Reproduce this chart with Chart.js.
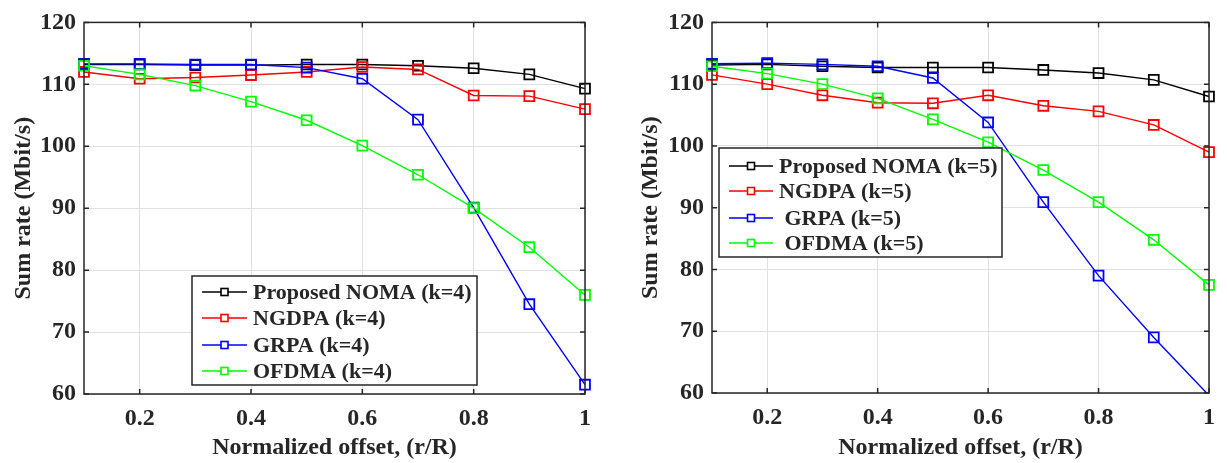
<!DOCTYPE html>
<html>
<head>
<meta charset="utf-8">
<script src="https://cdn.jsdelivr.net/npm/chart.js@4.4.1/dist/chart.umd.min.js"></script>
<style>
  html, body { margin: 0; padding: 0; background: #fff; }
  canvas { position: absolute; top: 0; }
  #left { left: 0; }
  #right { left: 610px; }
</style>
</head>
<body>
<canvas id="left" width="610" height="463"></canvas>
<canvas id="right" width="617" height="463"></canvas>
<script>
// normalized offset r/R
var offsets = [0.1, 0.2, 0.3, 0.4, 0.5, 0.6, 0.7, 0.8, 0.9, 1.0];
var xTicks = [0.2, 0.4, 0.6, 0.8, 1];
var yTicks = [60, 70, 80, 90, 100, 110, 120];

// sum rate (Mbit/s), k = 4
var nomaK4  = [113.2, 113.2, 113.1, 113.1, 113.2, 113.2, 113.0, 112.6, 111.6, 109.3];
var ngdpaK4 = [112.0, 110.9, 111.1, 111.5, 112.0, 112.8, 112.4, 108.2, 108.1, 106.0];
var grpaK4  = [113.3, 113.3, 113.2, 113.2, 112.7, 110.9, 104.3, 90.1, 74.5, 61.5];
var ofdmaK4 = [113.0, 111.6, 109.8, 107.2, 104.2, 100.1, 95.4, 90.0, 83.7, 76.0];

// sum rate (Mbit/s), k = 5
var nomaK5  = [113.1, 113.2, 112.9, 112.7, 112.7, 112.7, 112.3, 111.8, 110.7, 108.0];
var ngdpaK5 = [111.5, 110.0, 108.2, 107.0, 106.9, 108.2, 106.5, 105.6, 103.4, 99.0];
var grpaK5  = [113.3, 113.4, 113.2, 112.9, 111.0, 103.8, 90.9, 79.0, 69.0, 59.6];
var ofdmaK5 = [112.9, 111.7, 110.0, 107.7, 104.3, 100.6, 96.1, 90.9, 84.8, 77.5];

var namesK4 = ['Proposed NOMA (k=4)', 'NGDPA (k=4)', 'GRPA (k=4)', 'OFDMA (k=4)'];
var namesK5 = ['Proposed NOMA (k=5)', 'NGDPA (k=5)', ' GRPA (k=5)', ' OFDMA (k=5)'];
var colors = ['#000000', '#ff0000', '#0000ff', '#00ff00'];

var FAMILY = '"Liberation Serif", "Times New Roman", serif';
var TEXT = '#262626';

function pts(vals) {
  return vals.map(function (v, i) { return {x: offsets[i], y: v}; });
}

// matlab style box with inward ticks
var boxPlugin = {
  id: 'box',
  afterDatasetsDraw: function (chart) {
    var a = chart.chartArea, ctx = chart.ctx;
    var sx = chart.scales.x, sy = chart.scales.y;
    ctx.save();
    ctx.strokeStyle = TEXT;
    ctx.lineWidth = 1.5;
    ctx.beginPath();
    xTicks.forEach(function (v) {
      var px = sx.getPixelForValue(v);
      ctx.moveTo(px, a.bottom); ctx.lineTo(px, a.bottom - 5);
      ctx.moveTo(px, a.top); ctx.lineTo(px, a.top + 5);
    });
    yTicks.forEach(function (v) {
      var py = sy.getPixelForValue(v);
      ctx.moveTo(a.left, py); ctx.lineTo(a.left + 5, py);
      ctx.moveTo(a.right, py); ctx.lineTo(a.right - 5, py);
    });
    ctx.stroke();
    ctx.strokeRect(a.left, a.top, a.right - a.left, a.bottom - a.top);
    ctx.restore();
  }
};

var legendPlugin = {
  id: 'boxLegend',
  afterDraw: function (chart) {
    var L = chart.options.plugins.boxLegend;
    var ctx = chart.ctx;
    ctx.save();
    ctx.fillStyle = '#fff';
    ctx.fillRect(L.x, L.y, L.w, L.h);
    ctx.strokeStyle = TEXT;
    ctx.lineWidth = 1.5;
    ctx.strokeRect(L.x, L.y, L.w, L.h);
    ctx.font = 'bold 22px ' + FAMILY;
    ctx.textBaseline = 'middle';
    L.names.forEach(function (name, i) {
      var y = L.rows[i];
      ctx.strokeStyle = colors[i];
      ctx.lineWidth = 1.6;
      ctx.beginPath();
      ctx.moveTo(L.x0, y); ctx.lineTo(L.x1, y);
      ctx.stroke();
      var mx = (L.x0 + L.x1) / 2;
      ctx.clearRect(mx - 3.5, y - 3.5, 7, 7);
      ctx.strokeRect(mx - 3.5, y - 3.5, 7, 7);
      ctx.fillStyle = TEXT;
      ctx.fillText(name, L.tx, y + 1);
    });
    ctx.restore();
  }
};

function makeChart(id, series, names, opt) {
  var datasets = series.map(function (vals, i) {
    return {
      label: names[i],
      data: pts(vals),
      order: series.length - i,
      borderColor: colors[i],
      borderWidth: 1.4,
      pointStyle: 'rect',
      pointRadius: function (c) { return c.raw && c.raw.y < yTicks[0] ? 0 : 7; },
      pointBorderWidth: 1.8,
      pointBorderColor: colors[i],
      pointBackgroundColor: 'rgba(0,0,0,0)',
      clip: {left: 8, right: 8, top: 8, bottom: 0}
    };
  });
  var font = {family: FAMILY, size: 24, weight: 'bold'};
  return new Chart(document.getElementById(id), {
    type: 'line',
    data: {datasets: datasets},
    options: {
      responsive: false,
      animation: false,
      layout: {padding: {left: 0, right: opt.padRight, top: 13, bottom: 0}},
      plugins: {legend: {display: false}, tooltip: {enabled: false}, boxLegend: opt.legend},
      scales: {
        x: {
          type: 'linear', min: 0.1, max: 1,
          afterBuildTicks: function (s) { s.ticks = xTicks.map(function (v) { return {value: v}; }); },
          afterFit: function (s) { s.height = opt.xAxisH; },
          grid: {color: '#e0e0e0', lineWidth: 1, drawTicks: false},
          border: {display: false},
          ticks: {font: font, color: TEXT, padding: 10, maxRotation: 0, autoSkip: false,
                  callback: function (v) { return String(v); }},
          title: {display: true, text: 'Normalized offset, (r/R)', font: font, color: TEXT,
                  padding: {top: 0, bottom: 1}}
        },
        y: {
          min: 60, max: 120,
          afterBuildTicks: function (s) { s.ticks = yTicks.map(function (v) { return {value: v}; }); },
          afterFit: function (s) { s.width = opt.yAxisW; },
          grid: {color: '#e0e0e0', lineWidth: 1, drawTicks: false},
          border: {display: false},
          ticks: {font: font, color: TEXT, padding: 8},
          title: {display: true, text: 'Sum rate (Mbit/s)', font: font, color: TEXT,
                  padding: {top: opt.yTitlePad, bottom: 0}}
        }
      }
    },
    plugins: [boxPlugin, legendPlugin]
  });
}

makeChart('left', [nomaK4, ngdpaK4, grpaK4, ofdmaK4], namesK4, {
  padRight: 25, xAxisH: 69, yAxisW: 84, yTitlePad: 9,
  legend: {x: 192, y: 276, w: 285, h: 109, rows: [292, 318, 345, 371], x0: 202, x1: 247, tx: 253, names: namesK4}
});

makeChart('right', [nomaK5, ngdpaK5, grpaK5, ofdmaK5], namesK5, {
  padRight: 18, xAxisH: 70, yAxisW: 102, yTitlePad: 26,
  legend: {x: 109, y: 148, w: 283, h: 109, rows: [166, 191, 218, 243], x0: 119, x1: 163, tx: 169, names: namesK5}
});
</script>
</body>
</html>
